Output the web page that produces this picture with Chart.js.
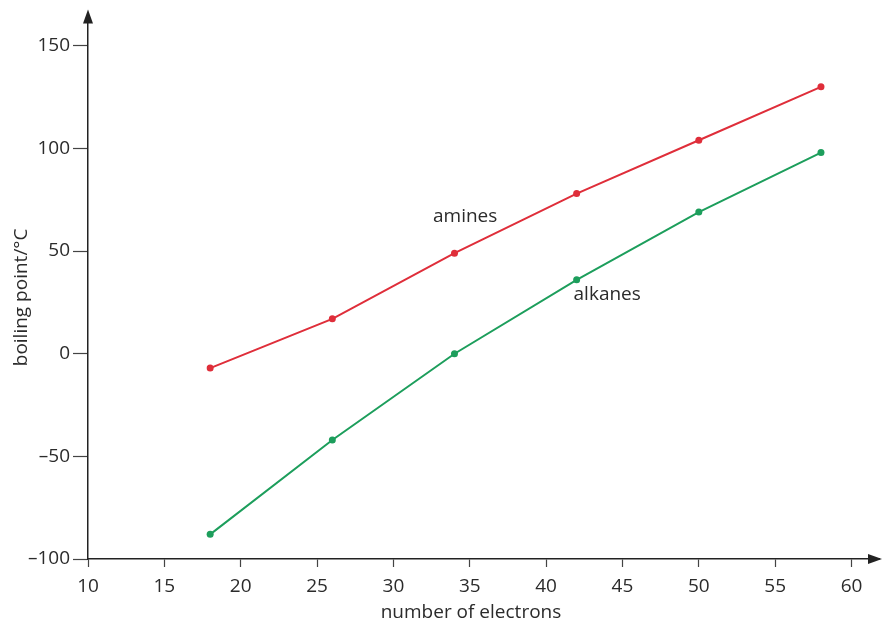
<!DOCTYPE html>
<html>
<head>
<meta charset="utf-8">
<script src="https://cdn.jsdelivr.net/npm/chart.js@4.4.0/dist/chart.umd.min.js"></script>
<style>
  html, body { margin: 0; padding: 0; background: #fff; }
  #wrap { width: 883px; height: 621px; }
</style>
</head>
<body>
<div id="wrap"><canvas id="chart"></canvas></div>
<script>
const electrons = [18, 26, 34, 42, 50, 58];
const amines = [-7, 17, 49, 78, 104, 130];
const alkanes = [-88, -42, 0, 36, 69, 98];
const xTicks = [10, 15, 20, 25, 30, 35, 40, 45, 50, 55, 60];
const yTicks = [-100, -50, 0, 50, 100, 150];
const seriesLabels = [
  { text: 'amines', x: 34.7, y: 67 },
  { text: 'alkanes', x: 44.0, y: 29 }
];
const xTitle = 'number of electrons';
const yTitle = 'boiling point/°C';

const FONT = '"Open Sans", "Noto Sans", sans-serif';
const INK = '#2b2b2b';

// arrow heads on the axis ends, axis titles and in-plot series labels
const extras = {
  id: 'extras',
  afterDraw(chart) {
    const { ctx, chartArea: a, scales } = chart;
    ctx.save();
    ctx.fillStyle = '#222';
    ctx.beginPath();
    ctx.moveTo(a.left, a.top - 5);
    ctx.lineTo(a.left - 5, a.top + 9);
    ctx.lineTo(a.left + 5, a.top + 9);
    ctx.closePath();
    ctx.fill();
    ctx.beginPath();
    ctx.moveTo(a.right + 3, a.bottom);
    ctx.lineTo(a.right - 11, a.bottom - 5);
    ctx.lineTo(a.right - 11, a.bottom + 5);
    ctx.closePath();
    ctx.fill();

    ctx.fillStyle = INK;
    ctx.font = '19px ' + FONT;
    ctx.textAlign = 'center';
    ctx.textBaseline = 'middle';
    seriesLabels.forEach(l => {
      ctx.fillText(l.text, scales.x.getPixelForValue(l.x), scales.y.getPixelForValue(l.y));
    });
    ctx.fillText(xTitle, a.left + 383, a.bottom + 54);
    ctx.translate(a.left - 66, a.top + 283);
    ctx.rotate(-Math.PI / 2);
    ctx.fillText(yTitle, 0, 0);
    ctx.restore();
  }
};

new Chart(document.getElementById('chart').getContext('2d'), {
  type: 'line',
  data: {
    datasets: [
      { label: 'amines', data: electrons.map((x, i) => ({ x, y: amines[i] })),
        borderColor: '#df2e3a', backgroundColor: '#df2e3a', borderWidth: 2, pointRadius: 3.5, pointBorderWidth: 0 },
      { label: 'alkanes', data: electrons.map((x, i) => ({ x, y: alkanes[i] })),
        borderColor: '#1d9e5c', backgroundColor: '#1d9e5c', borderWidth: 2, pointRadius: 3.5, pointBorderWidth: 0 }
    ]
  },
  options: {
    responsive: true,
    maintainAspectRatio: false,
    animation: false,
    layout: { padding: { top: 10, right: 3, left: 0, bottom: 0 } },
    plugins: { legend: { display: false }, tooltip: { enabled: false } },
    scales: {
      x: {
        type: 'linear', min: 10, max: 61.8,
        afterBuildTicks: s => { s.ticks = xTicks.map(v => ({ value: v })); },
        afterFit: s => { s.height = 62; },
        border: { color: '#222', width: 1.5 },
        grid: { drawOnChartArea: false, tickLength: 8, tickColor: '#444', tickWidth: 1.2 },
        ticks: { color: INK, font: { family: FONT, size: 19 }, padding: 8, maxRotation: 0 }
      },
      y: {
        type: 'linear', min: -100, max: 165.3,
        afterBuildTicks: s => { s.ticks = yTicks.map(v => ({ value: v })); },
        afterFit: s => { s.width = 88; },
        border: { color: '#222', width: 1.5 },
        grid: { drawOnChartArea: false, tickLength: 15, tickColor: '#444', tickWidth: 1.2 },
        ticks: { color: INK, font: { family: FONT, size: 19 }, padding: 3, callback: v => String(v).replace('-', '\u2013') }
      }
    }
  },
  plugins: [extras]
});
</script>
</body>
</html>
